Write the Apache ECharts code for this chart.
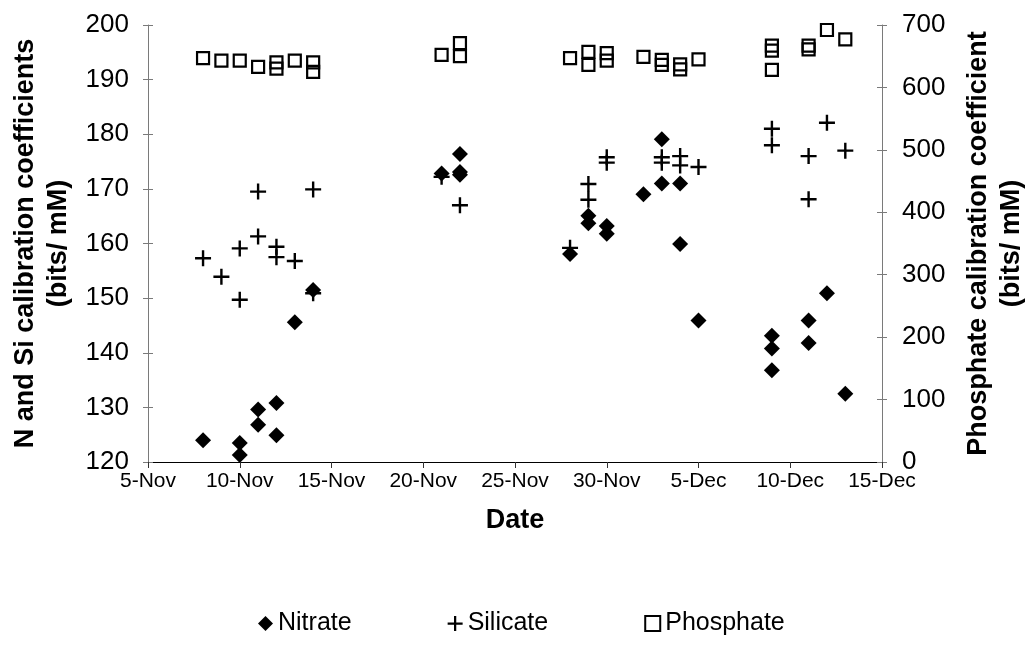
<!DOCTYPE html>
<html>
<head>
<meta charset="utf-8">
<script src="https://cdn.jsdelivr.net/npm/echarts@6/dist/echarts.min.js"></script>
<style>
  html, body { margin: 0; padding: 0; background: #fff; }
  #chart { width: 1028px; height: 647px; }
</style>
</head>
<body>
<div id="chart"></div>
<script>
// Calibration coefficients per sampling date (dd-Mon)
const nitrateDates = ['8-Nov','10-Nov','10-Nov','11-Nov','11-Nov','12-Nov','12-Nov','13-Nov','14-Nov',
  '21-Nov','22-Nov','22-Nov','22-Nov','28-Nov','29-Nov','29-Nov','30-Nov','30-Nov',
  '2-Dec','3-Dec','3-Dec','4-Dec','4-Dec','5-Dec','9-Dec','9-Dec','9-Dec','11-Dec','11-Dec','12-Dec','13-Dec'];
const nitrateValues = [124.0, 123.5, 121.3, 129.6, 126.8, 130.8, 124.9, 145.6, 151.5,
  172.8, 176.4, 173.1, 172.6, 158.1, 165.1, 163.7, 163.2, 161.8,
  169.0, 179.1, 171.0, 171.0, 159.9, 145.9, 143.1, 140.8, 136.8, 145.9, 141.8, 150.9, 132.5];

const silicateDates = ['8-Nov','9-Nov','10-Nov','10-Nov','11-Nov','11-Nov','12-Nov','12-Nov','13-Nov','14-Nov','14-Nov',
  '21-Nov','22-Nov','28-Nov','29-Nov','29-Nov','30-Nov','30-Nov',
  '3-Dec','3-Dec','4-Dec','4-Dec','5-Dec','9-Dec','9-Dec','11-Dec','11-Dec','12-Dec','13-Dec'];
const silicateValues = [157.3, 153.9, 159.1, 149.7, 169.5, 161.3, 159.4, 157.5, 156.8, 169.9, 150.9,
  172.2, 167.0, 159.2, 170.9, 168.0, 175.8, 174.8,
  175.8, 174.8, 176.0, 174.3, 174.0, 181.0, 178.0, 176.0, 168.1, 182.1, 177.0];

const phosphateDates = ['8-Nov','9-Nov','10-Nov','11-Nov','12-Nov','12-Nov','13-Nov','14-Nov','14-Nov',
  '21-Nov','22-Nov','22-Nov','28-Nov','29-Nov','29-Nov','30-Nov','30-Nov',
  '2-Dec','3-Dec','3-Dec','4-Dec','4-Dec','5-Dec','9-Dec','9-Dec','9-Dec','11-Dec','11-Dec','12-Dec','13-Dec'];
const phosphateValues = [647, 643, 643, 633, 640, 630, 643, 640, 625,
  652, 671, 650, 647, 657, 636, 655, 643,
  649, 644, 636, 637, 629, 645, 667, 659, 628, 667, 661, 692, 677];

// x axis runs 5-Nov .. 15-Dec, counted in days from 31-Oct
const xTickLabels = ['5-Nov','10-Nov','15-Nov','20-Nov','25-Nov','30-Nov','5-Dec','10-Dec','15-Dec'];

function dayNumber(label) {
  const [d, m] = label.split('-');
  return m === 'Nov' ? Number(d) : Number(d) + 30;
}
function dayLabel(v) {
  return v <= 30 ? v + '-Nov' : (v - 30) + '-Dec';
}
function pairs(dates, values) {
  return dates.map((d, i) => [dayNumber(d), values[i]]);
}

const FONT = "'Liberation Sans', Arial, sans-serif";
const xMin = dayNumber(xTickLabels[0]);
const xMax = dayNumber(xTickLabels[xTickLabels.length - 1]);

const plusPath = 'path://M6.8,0H9.2V6.8H16V9.2H9.2V16H6.8V9.2H0V6.8H6.8Z';

const chart = echarts.init(document.getElementById('chart'), null, { renderer: 'canvas' });

const yLine = { show: true, lineStyle: { color: '#7a7a7a', width: 1 } };
const yTick = { show: true, length: 5, lineStyle: { color: '#7a7a7a', width: 1 } };
const titleStyle = { fontFamily: FONT, fontSize: 27, fontWeight: 'bold', color: '#000', lineHeight: 33 };

chart.setOption({
  animation: false,
  backgroundColor: '#fff',
  textStyle: { fontFamily: FONT },
  grid: { left: 148, right: 146, top: 25, bottom: 185, containLabel: false, outerBoundsMode: 'none' },
  legend: {
    top: 606,
    left: 253,
    itemWidth: 15,
    itemHeight: 15,
    itemGap: 96,
    textStyle: { fontFamily: FONT, fontSize: 25, color: '#000' },
    data: ['Nitrate', 'Silicate', 'Phosphate']
  },
  xAxis: {
    type: 'value',
    min: xMin,
    max: xMax,
    interval: 5,
    name: 'Date',
    nameLocation: 'middle',
    nameGap: 42,
    nameTextStyle: titleStyle,
    axisLine: { show: true, onZero: false, lineStyle: { color: '#000', width: 1 } },
    axisTick: { show: true, inside: false, length: 6, lineStyle: { color: '#333' } },
    axisLabel: { fontFamily: FONT, fontSize: 21, color: '#000', margin: 9, formatter: dayLabel },
    splitLine: { show: false }
  },
  yAxis: [
    {
      type: 'value', position: 'left', min: 120, max: 200, interval: 10,
      name: 'N and Si calibration coefficients\n(bits/ mM)',
      nameLocation: 'middle', nameGap: 72, nameRotate: 90,
      nameTextStyle: titleStyle,
      axisLine: yLine, axisTick: yTick,
      axisLabel: { fontFamily: FONT, fontSize: 26, color: '#000', margin: 19 },
      splitLine: { show: false }
    },
    {
      type: 'value', position: 'right', min: 0, max: 700, interval: 100,
      name: 'Phosphate calibration coefficient\n(bits/ mM)',
      nameLocation: 'middle', nameGap: 80, nameRotate: 90,
      nameTextStyle: titleStyle,
      axisLine: yLine, axisTick: yTick,
      axisLabel: { fontFamily: FONT, fontSize: 26, color: '#000', margin: 20 },
      splitLine: { show: false }
    },
    {
      // inner half of the left tick marks
      type: 'value', position: 'left', min: 120, max: 200, interval: 10,
      axisLine: { show: false }, axisLabel: { show: false }, splitLine: { show: false },
      axisTick: { show: true, inside: true, length: 5, lineStyle: { color: '#7a7a7a' } }
    },
    {
      // inner half of the right tick marks
      type: 'value', position: 'right', min: 0, max: 700, interval: 100,
      axisLine: { show: false }, axisLabel: { show: false }, splitLine: { show: false },
      axisTick: { show: true, inside: true, length: 5, lineStyle: { color: '#7a7a7a' } }
    }
  ],
  series: [
    {
      name: 'Nitrate', type: 'scatter', yAxisIndex: 0,
      symbol: 'diamond', symbolSize: 16,
      itemStyle: { color: '#000', opacity: 1 },
      data: pairs(nitrateDates, nitrateValues)
    },
    {
      name: 'Silicate', type: 'scatter', yAxisIndex: 0,
      symbol: plusPath, symbolSize: 16,
      itemStyle: { color: '#000', opacity: 1 },
      data: pairs(silicateDates, silicateValues)
    },
    {
      name: 'Phosphate', type: 'scatter', yAxisIndex: 1,
      symbol: 'rect', symbolSize: 12,
      itemStyle: { color: 'rgba(255,255,255,0)', borderColor: '#000', borderWidth: 2.2, opacity: 1 },
      data: pairs(phosphateDates, phosphateValues)
    }
  ]
});
</script>
</body>
</html>
